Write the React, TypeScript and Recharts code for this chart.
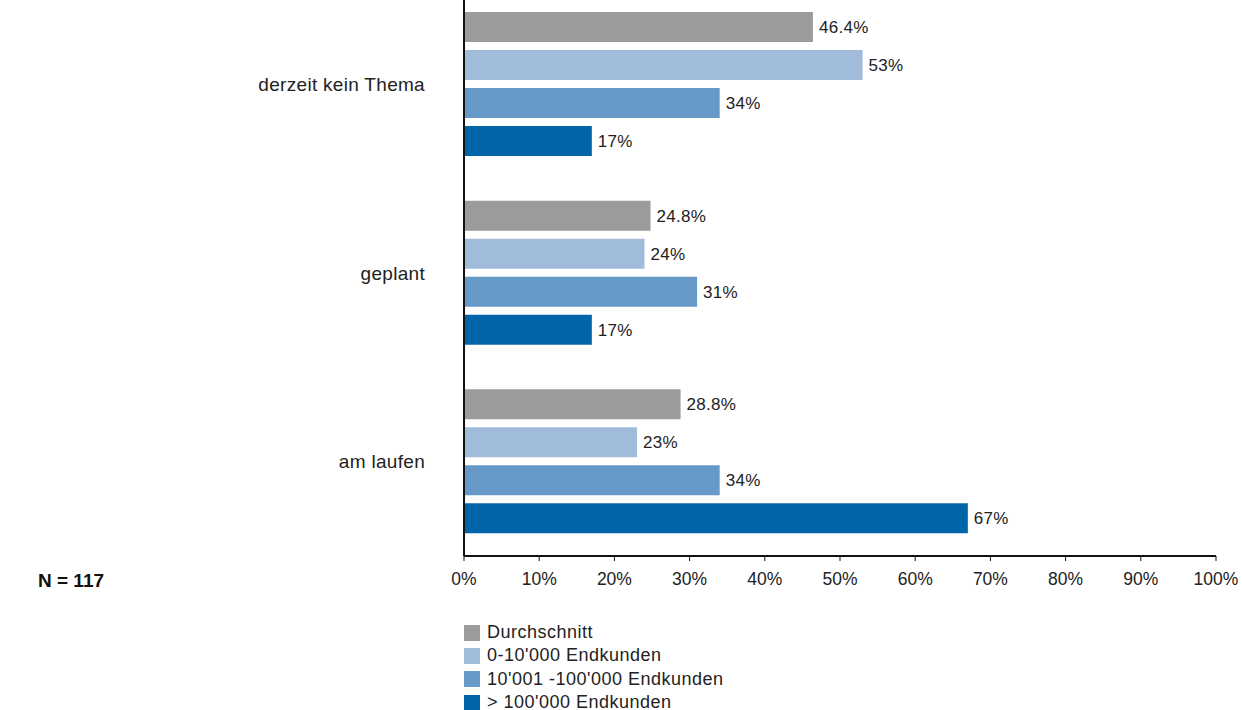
import { BarChart, Bar, XAxis, YAxis, LabelList } from 'recharts';

const categories = ['derzeit kein Thema', 'geplant', 'am laufen'];
const seriesNames = ['Durchschnitt', "0-10'000 Endkunden", "10'001 -100'000 Endkunden", "> 100'000 Endkunden"];
const seriesColors = ['#9a9b9d', '#a1bbdb', '#6699c8', '#0065a8'];
const durchschnitt = [46.4, 24.8, 28.8];
const klein = [53, 24, 23];
const mittel = [34, 31, 34];
const gross = [17, 17, 67];
const xTicks = [0, 10, 20, 30, 40, 50, 60, 70, 80, 90, 100];

const seriesValues = [durchschnitt, klein, mittel, gross];
const data = categories.map((name, i) => {
    const row: Record<string, string | number> = { name };
    seriesValues.forEach((vals, s) => {
        row[`s${s}`] = vals[i];
    });
    return row;
});

const FONT = '"Liberation Sans", Arial, Helvetica, sans-serif';

export default function App() {
    return (
        <div style={{ position: 'absolute', left: 0, top: 0, width: 1242, height: 710, fontFamily: FONT, background: '#fff' }}>
            <BarChart
                width={1242}
                height={710}
                data={data}
                layout="vertical"
                barSize={30}
                barGap={8}
                margin={{ top: -10, right: 26, left: 264, bottom: 124 }}
            >
                <XAxis
                    type="number"
                    domain={[0, 100]}
                    ticks={xTicks}
                    height={30}
                    tickFormatter={(v) => `${v}%`}
                    axisLine={{ stroke: '#111', strokeWidth: 2 }}
                    tickLine={{ stroke: '#111' }}
                    tickSize={5}
                    tickMargin={12}
                    tick={{ fontSize: 17.5, fill: '#222', fontFamily: FONT }}
                />
                <YAxis
                    type="category"
                    dataKey="name"
                    width={200}
                    axisLine={{ stroke: '#111', strokeWidth: 2 }}
                    tickLine={false}
                    tickMargin={33}
                    tick={{ fontSize: 19, fill: '#222', fontFamily: FONT, letterSpacing: 0.3 }}
                />
                {seriesNames.map((n, s) => (
                    <Bar key={n} dataKey={`s${s}`} name={n} fill={seriesColors[s]} isAnimationActive={false}>
                        <LabelList
                            dataKey={`s${s}`}
                            position="right"
                            offset={6}
                            formatter={(v: any) => `${v}%`}
                            style={{ fontSize: 17, fill: '#222', fontFamily: FONT, letterSpacing: 0.3 }}
                        />
                    </Bar>
                ))}
            </BarChart>
            <div style={{ position: 'absolute', left: 38, top: 570, fontSize: 19, fontWeight: 'bold', color: '#111' }}>N = 117</div>
            <div style={{ position: 'absolute', left: 464, top: 621 }}>
                {seriesNames.map((n, s) => (
                    <div key={n} style={{ display: 'flex', alignItems: 'center', height: 23.3, fontSize: 18, letterSpacing: 0.5, color: '#222' }}>
                        <span style={{ width: 16, height: 16, background: seriesColors[s], marginRight: 7, display: 'inline-block' }} />
                        {n}
                    </div>
                ))}
            </div>
        </div>
    );
}
